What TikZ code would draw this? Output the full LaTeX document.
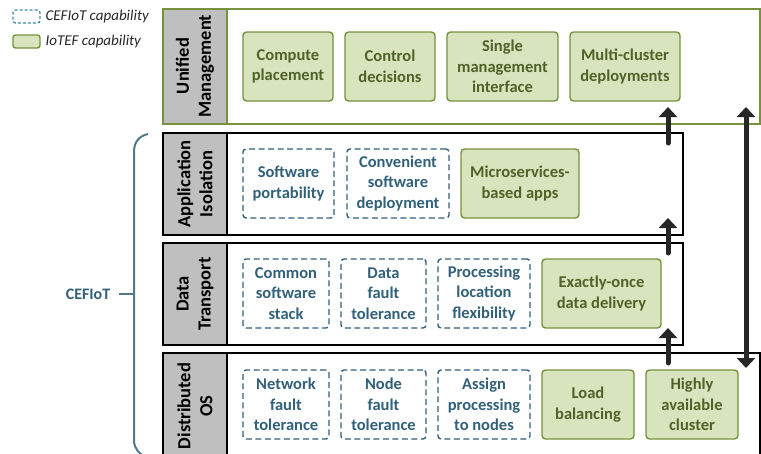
\documentclass[tikz,border=0pt]{standalone}
\usepackage{fontspec}
\setmainfont{Carlito}
\usetikzlibrary{arrows.meta}
\definecolor{oliveB}{RGB}{118,146,60}
\definecolor{gfill}{RGB}{215,228,189}
\definecolor{gtext}{RGB}{79,98,40}
\definecolor{tealB}{RGB}{49,96,122}
\definecolor{legteal}{RGB}{66,138,168}
\definecolor{lgray}{RGB}{191,191,191}
\definecolor{arrowc}{RGB}{38,38,38}
\begin{document}
\begin{tikzpicture}[x=1pt,y=-1pt,
  boxfont/.style={font=\bfseries\fontsize{16.5}{20.5}\selectfont},
  capbox/.style={boxfont, draw=tealB, dash pattern=on 6pt off 3.5pt, line width=1.4pt,
    rounded corners=3pt, text=tealB, align=center, minimum height=69pt, inner sep=0pt},
  iotbox/.style={boxfont, draw=oliveB, fill=gfill, line width=1.4pt,
    rounded corners=3.5pt, text=gtext, align=center, minimum height=69pt, inner sep=0pt},
  layerlabel/.style={rotate=90, align=center, font=\bfseries\fontsize{18.5}{22}\selectfont, text=black},
  arr/.style={draw=arrowc, line width=5pt, line cap=round, -{Triangle[width=18pt,length=10pt]}},
  darr/.style={draw=arrowc, line width=5pt, {Triangle[width=18pt,length=10pt]}-{Triangle[width=18pt,length=10pt]}},
  legtext/.style={anchor=west, font=\itshape\fontsize{15}{17}\selectfont, text=black!85}
]
\useasboundingbox (0,0) rectangle (761,453);
\clip (0,0) rectangle (761,453);

% ---- layer frames ----
% Unified Management
\draw[oliveB, line width=2pt] (163,9) rectangle (760,124);
\draw[oliveB, line width=2pt, fill=lgray] (163,9) rectangle (227,124);
% Application Isolation
\draw[black, line width=1.6pt] (163,133) rectangle (683,235);
\draw[black, line width=1.6pt, fill=lgray] (163,133) rectangle (227,235);
% Data Transport
\draw[black, line width=1.6pt] (163,243) rectangle (683,345);
\draw[black, line width=1.6pt, fill=lgray] (163,243) rectangle (227,345);
% Distributed OS
\draw[black, line width=1.6pt] (163,353) rectangle (760,475);
\draw[black, line width=1.6pt, fill=lgray] (163,353) rectangle (227,475);

% ---- layer labels ----
\node[layerlabel] (lum) at (195,66) {Unified\\Management};
\node[layerlabel] (lai) at (195,184) {Application\\Isolation};
\node[layerlabel] (ldt) at (195,294) {Data\\Transport};
\node[layerlabel] (lds) at (195,406) {Distributed\\OS};

% ---- Unified Management ----
\node[iotbox, minimum width=90pt]  (cp) at (288,66.5) {Compute\\placement};
\node[iotbox, minimum width=90pt]  (cd) at (390,66.5) {Control\\decisions};
\node[iotbox, minimum width=111pt] (sm) at (502.5,66.5) {Single\\management\\interface};
\node[iotbox, minimum width=110pt] (mc) at (625,66.5) {Multi-cluster\\deployments};

% ---- Application Isolation ----
\node[capbox, minimum width=91pt]  (sp) at (288.5,183.5) {Software\\portability};
\node[capbox, minimum width=102pt] (cs) at (398,183.5) {Convenient\\software\\deployment};
\node[iotbox, minimum width=118pt] (ms) at (520,183.5) {Microservices-\\based apps};

% ---- Data Transport ----
\node[capbox, minimum width=86pt]  (css) at (286,293.5) {Common\\software\\stack};
\node[capbox, minimum width=85pt]  (dft) at (383.5,293.5) {Data\\fault\\tolerance};
\node[capbox, minimum width=92pt]  (plf) at (484,293.5) {Processing\\location\\flexibility};
\node[iotbox, minimum width=119pt] (eo)  at (601.5,293.5) {Exactly-once\\data delivery};

% ---- Distributed OS ----
\node[capbox, minimum width=86pt] (nft) at (286,404.5) {Network\\fault\\tolerance};
\node[capbox, minimum width=85pt] (nof) at (383.5,404.5) {Node\\fault\\tolerance};
\node[capbox, minimum width=92pt] (apn) at (484,404.5) {Assign\\processing\\to nodes};
\node[iotbox, minimum width=92pt] (lb)  at (588,404.5) {Load\\balancing};
\node[iotbox, minimum width=92pt] (hac) at (692,404.5) {Highly\\available\\cluster};

% ---- arrows ----
\coordinate (a1s) at (668,143);
\coordinate (a1e) at (668,107);
\coordinate (a2s) at (668,253);
\coordinate (a2e) at (668,218);
\coordinate (a3s) at (668,363);
\coordinate (a3e) at (668,328);
\coordinate (lt) at (746,107);
\coordinate (lb2) at (746,368);
\draw[arr] (a1s) -- (a1e);
\draw[arr] (a2s) -- (a2e);
\draw[arr] (a3s) -- (a3e);
\draw[darr] (lt) -- (lb2);

% ---- CEFIoT brace ----
\coordinate (bt) at (148,134);
\coordinate (bb) at (148,458);
\coordinate (bm) at (134,294);
\coordinate (bl) at (119,294);
\draw[tealB!85!white, line width=2pt]
  (bt) .. controls (139,136) and (134,142) .. (134,152)
  -- (134,440) .. controls (134,449) and (139,454) .. (bb);
\draw[tealB!85!white, line width=2pt] (bl) -- (bm);
\node[font=\bfseries\fontsize{16}{18}\selectfont, text=tealB] (cef) at (88,294) {CEFIoT};

% ---- legend ----
\node[draw=legteal, dash pattern=on 3pt off 2pt, line width=1.3pt, rounded corners=2.5pt,
  minimum width=27pt, minimum height=13pt, inner sep=0pt] (legc) at (26.5,16.5) {};
\node[legtext] (legct) at (42,16.5) {CEFIoT capability};
\node[draw=oliveB, fill=gfill, line width=1.4pt, rounded corners=2.5pt,
  minimum width=27pt, minimum height=13pt, inner sep=0pt] (legi) at (26.5,41.5) {};
\node[legtext] (legit) at (42,41.5) {IoTEF capability};
\end{tikzpicture}
\end{document}
